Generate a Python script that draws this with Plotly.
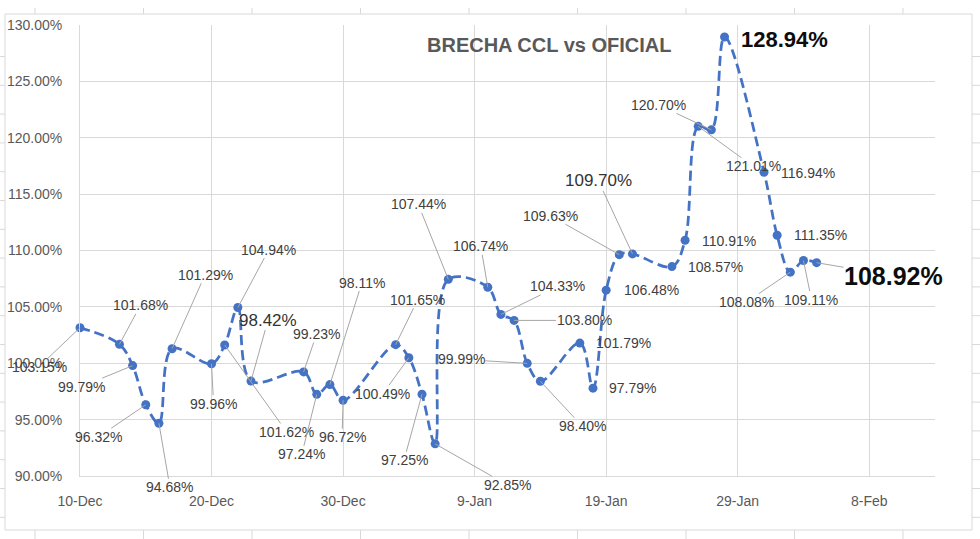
import plotly.graph_objects as go

# ---------------- data ----------------
dates = ["2021-12-10", "2021-12-13", "2021-12-14", "2021-12-15", "2021-12-16", "2021-12-17",
         "2021-12-20", "2021-12-21", "2021-12-22", "2021-12-23",
         "2021-12-27", "2021-12-28", "2021-12-29", "2021-12-30",
         "2022-01-03", "2022-01-04", "2022-01-05", "2022-01-06", "2022-01-07",
         "2022-01-10", "2022-01-11", "2022-01-12", "2022-01-13", "2022-01-14",
         "2022-01-17", "2022-01-18", "2022-01-19", "2022-01-20", "2022-01-21",
         "2022-01-24", "2022-01-25", "2022-01-26", "2022-01-27", "2022-01-28",
         "2022-01-31", "2022-02-01", "2022-02-02", "2022-02-03", "2022-02-04"]
brecha = [103.15, 101.68, 99.79, 96.32, 94.68, 101.29,
          99.96, 101.62, 104.94, 98.42,
          99.23, 97.24, 98.11, 96.72,
          101.65, 100.49, 97.25, 92.85, 107.44,
          106.74, 104.33, 103.80, 99.99, 98.40,
          101.79, 97.79, 106.48, 109.63, 109.70,
          108.57, 110.91, 121.01, 120.70, 128.94,
          116.94, 111.35, 108.08, 109.11, 108.92]
x_tick_vals = ["2021-12-10", "2021-12-20", "2021-12-30", "2022-01-09",
               "2022-01-19", "2022-01-29", "2022-02-08"]
x_tick_text = ["10-Dec", "20-Dec", "30-Dec", "9-Jan", "19-Jan", "29-Jan", "8-Feb"]
y_tick_vals = [90, 95, 100, 105, 110, 115, 120, 125, 130]
y_tick_text = ["90.00%", "95.00%", "100.00%", "105.00%", "110.00%",
               "115.00%", "120.00%", "125.00%", "130.00%"]
title_text = "BRECHA CCL vs OFICIAL"

# ---------------- label placement (style only) ----------------
# (dx px, dy px (down +), leader line?, style)
label_layout = [
    (-41, 39, True, "n"), (21, -39, True, "n"), (-51, 21, True, "n"), (-47, 32, True, "n"),
    (11, 64, True, "n"), (33, -74, True, "n"),
    (2, 40, True, "n"), (62, 87, True, "n"), (31, -58, True, "n"), (17, -61, True, "big"),
    (13, -38, True, "n"), (-15, 60, True, "n"), (32, -102, True, "n"), (-1, 37, True, "n"),
    (22, -45, True, "n"), (-26, 36, True, "n"), (-18, 66, True, "n"), (72, 41, True, "n"),
    (-30, -75, True, "n"),
    (-7, -41, True, "n"), (57, -28, True, "n"), (70, 0, True, "n"), (-66, -4, True, "n"),
    (42, 45, True, "n"),
    (44, 0, False, "n"), (39, 0, False, "n"), (45, 0, False, "n"), (-69, -39, True, "n"),
    (-34, -73, True, "big"),
    (44, 0, False, "n"), (44, 1, False, "n"), (55, 40, True, "n"), (-53, -25, True, "n"),
    (60, 3, False, "bold22"),
    (44, 1, False, "n"), (43, 0, False, "n"), (-44, 30, True, "n"), (8, 39, True, "n"),
    (77, 13, True, "bold25"),
]

FONT = "Liberation Sans"
BLUE = "#4472C4"
GRID = "#d9d9d9"
W, H = 980, 539
PL, PR, PT, PB = 80, 935, 25, 476  # plot area in pixels


def px_x(px):
    return (px - PL) / (PR - PL)


def px_y(py):
    return (PB - py) / (PB - PT)


fig = go.Figure()
fig.add_trace(go.Scatter(
    x=dates, y=brecha, mode="lines+markers",
    line=dict(color=BLUE, width=2.75, dash="10px,5px", shape="spline", smoothing=1.0),
    marker=dict(color=BLUE, size=9),
    hoverinfo="x+y", showlegend=False, cliponaxis=False,
))

styles = {
    "n": dict(family=FONT, size=14, color="#404040"),
    "big": dict(family=FONT, size=17, color="#333333"),
    "bold22": dict(family=FONT, size=22, color="#0d0d0d"),
    "bold25": dict(family=FONT, size=25, color="#0d0d0d"),
}

annotations = []
for d, v, (dx, dy, leader, st) in zip(dates, brecha, label_layout):
    txt = f"{v:.2f}%"
    font = dict(styles[st])
    if st.startswith("bold"):
        txt = f"<b>{txt}</b>"
    if leader:
        annotations.append(dict(
            x=d, y=v, xref="x", yref="y", text=txt, showarrow=True,
            ax=dx, ay=dy, axref="pixel", ayref="pixel",
            arrowhead=0, arrowwidth=1, arrowcolor="#a6a6a6", standoff=0,
            font=font, borderpad=0,
        ))
    else:
        annotations.append(dict(
            x=d, y=v, xref="x", yref="y", text=txt, showarrow=False,
            xshift=dx, yshift=-dy, font=font,
        ))

# title
annotations.append(dict(
    x=px_x(549), y=px_y(45), xref="paper", yref="paper", text=f"<b>{title_text}</b>",
    showarrow=False, font=dict(family=FONT, size=20, color="#595959"),
    xanchor="center", yanchor="middle",
))

shapes = []
# chart area border
shapes.append(dict(type="rect", xref="paper", yref="paper",
                   x0=px_x(5), x1=px_x(972), y0=px_y(530), y1=px_y(14),
                   line=dict(color=GRID, width=1), layer="below"))
# spreadsheet cell borders peeking outside the chart
for k in range(9):
    cx = 35 + 108.5 * k
    shapes.append(dict(type="line", xref="paper", yref="paper",
                       x0=px_x(cx), x1=px_x(cx), y0=px_y(8), y1=px_y(14),
                       line=dict(color=GRID, width=1)))
    shapes.append(dict(type="line", xref="paper", yref="paper",
                       x0=px_x(cx), x1=px_x(cx), y0=px_y(530), y1=px_y(539),
                       line=dict(color=GRID, width=1)))
for k in range(17):
    ry = 56.5 + 28.8 * k
    shapes.append(dict(type="line", xref="paper", yref="paper",
                       x0=px_x(972), x1=px_x(980), y0=px_y(ry), y1=px_y(ry),
                       line=dict(color=GRID, width=1)))
    shapes.append(dict(type="line", xref="paper", yref="paper",
                       x0=px_x(0), x1=px_x(5), y0=px_y(ry), y1=px_y(ry),
                       line=dict(color=GRID, width=1)))

fig.update_layout(
    width=W, height=H,
    margin=dict(l=PL, r=W - PR, t=PT, b=H - PB, autoexpand=False),
    paper_bgcolor="white", plot_bgcolor="white",
    font=dict(family=FONT, size=14, color="#595959"),
    annotations=annotations, shapes=shapes,
    xaxis=dict(
        type="date", range=["2021-12-10", "2022-02-13"],
        tickvals=x_tick_vals, ticktext=x_tick_text,
        showgrid=True, gridcolor=GRID, gridwidth=1,
        showline=True, linecolor=GRID, linewidth=1,
        ticks="", zeroline=False, ticklabelstandoff=12, automargin=False,
        tickfont=dict(family=FONT, size=14, color="#595959"),
    ),
    yaxis=dict(
        range=[90, 130], tickvals=y_tick_vals, ticktext=y_tick_text,
        showgrid=True, gridcolor=GRID, gridwidth=1,
        showline=True, linecolor=GRID, linewidth=1,
        ticks="", zeroline=False, ticklabelstandoff=14, automargin=False,
        tickfont=dict(family=FONT, size=14, color="#595959"),
    ),
)

fig.write_html("out.html")
